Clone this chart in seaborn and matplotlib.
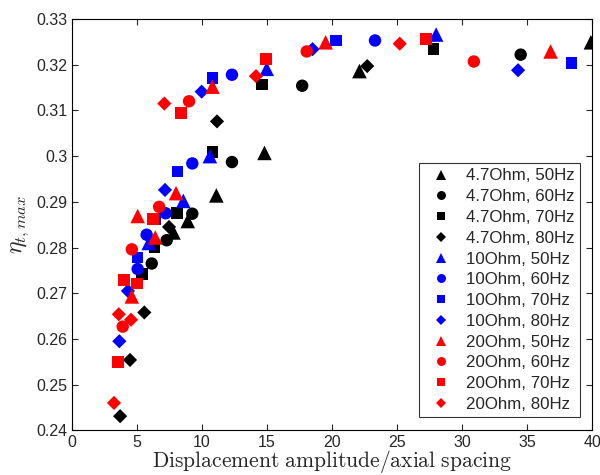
import numpy as np
import pandas as pd
import seaborn as sns
import matplotlib.pyplot as plt
from matplotlib.ticker import FixedLocator, FuncFormatter

# ===============================
# Data
# ===============================
x_47_50 = [7.8, 8.9, 11.1, 14.8, 22.1, 39.9]
y_47_50 = [0.2833, 0.2858, 0.2914, 0.3007, 0.3186, 0.3249]
x_47_60 = [6.13, 7.28, 9.25, 12.3, 17.7, 34.5]
y_47_60 = [0.2765, 0.2816, 0.2874, 0.2987, 0.3154, 0.3222]
x_47_70 = [5.4, 6.33, 8.05, 10.8, 14.6, 27.8]
y_47_70 = [0.2742, 0.2800, 0.2876, 0.3009, 0.3157, 0.3235]
x_47_80 = [3.7, 4.46, 5.56, 7.46, 11.15, 22.7]
y_47_80 = [0.2431, 0.2554, 0.2658, 0.2845, 0.3076, 0.3197]

x_10_50 = [5.9, 8.56, 10.6, 14.97, 28.0]
y_10_50 = [0.2810, 0.2902, 0.3000, 0.3191, 0.3266]
x_10_60 = [5.05, 5.74, 7.2, 9.25, 12.3, 23.3]
y_10_60 = [0.2753, 0.2828, 0.2875, 0.2984, 0.3178, 0.3253]
x_10_70 = [5.05, 6.4, 8.1, 10.8, 20.3, 38.4]
y_10_70 = [0.2778, 0.2862, 0.2966, 0.3171, 0.3253, 0.3204]
x_10_80 = [3.64, 4.3, 7.15, 9.97, 18.5, 34.3]
y_10_80 = [0.2595, 0.2705, 0.2926, 0.3141, 0.3234, 0.3188]

x_20_50 = [4.6, 5.05, 6.4, 8.0, 10.8, 19.5, 36.8]
y_20_50 = [0.2693, 0.2869, 0.2822, 0.2919, 0.3152, 0.3249, 0.3229]
x_20_60 = [3.9, 4.6, 6.7, 9.0, 18.05, 30.9]
y_20_60 = [0.2627, 0.2796, 0.2889, 0.3120, 0.3229, 0.3207]
x_20_70 = [3.56, 4.0, 5.0, 6.25, 8.36, 14.9, 27.2]
y_20_70 = [0.2550, 0.2729, 0.2721, 0.2862, 0.3095, 0.3213, 0.3256]
x_20_80 = [3.23, 3.6, 4.54, 7.1, 14.15, 25.2]
y_20_80 = [0.2460, 0.2654, 0.2642, 0.3115, 0.3175, 0.3246]

series = [
    ('4.7Ohm, 50Hz', x_47_50, y_47_50), ('4.7Ohm, 60Hz', x_47_60, y_47_60),
    ('4.7Ohm, 70Hz', x_47_70, y_47_70), ('4.7Ohm, 80Hz', x_47_80, y_47_80),
    ('10Ohm, 50Hz', x_10_50, y_10_50), ('10Ohm, 60Hz', x_10_60, y_10_60),
    ('10Ohm, 70Hz', x_10_70, y_10_70), ('10Ohm, 80Hz', x_10_80, y_10_80),
    ('20Ohm, 50Hz', x_20_50, y_20_50), ('20Ohm, 60Hz', x_20_60, y_20_60),
    ('20Ohm, 70Hz', x_20_70, y_20_70), ('20Ohm, 80Hz', x_20_80, y_20_80),
]
labels = [s[0] for s in series]

df = pd.concat([pd.DataFrame({'Case': lab, 'x': xs, 'y': ys}) for lab, xs, ys in series],
               ignore_index=True)

# colour by resistance, marker by frequency
res_colors = {'4.7Ohm': 'black', '10Ohm': 'blue', '20Ohm': 'red'}
freq_markers = {'50Hz': '^', '60Hz': 'o', '70Hz': 's', '80Hz': 'D'}
freq_sizes = {'50Hz': 110, '60Hz': 80, '70Hz': 70, '80Hz': 52}
palette = {lab: res_colors[lab.split(',')[0]] for lab in labels}
markers = {lab: freq_markers[lab.split(', ')[1]] for lab in labels}
sizes = {lab: freq_sizes[lab.split(', ')[1]] for lab in labels}

# ===============================
# Plot
# ===============================
sns.set_style('white')
plt.rcParams['font.family'] = ['Liberation Sans', 'DejaVu Sans']
plt.rcParams['mathtext.fontset'] = 'cm'

fig = plt.figure(figsize=(6, 4.75), dpi=100)
ax = fig.add_axes([0.12, 0.094, 0.867, 0.866])

sns.scatterplot(data=df, x='x', y='y', hue='Case', style='Case', size='Case',
                hue_order=labels, style_order=labels, size_order=labels,
                palette=palette, markers=markers, sizes=sizes, linewidth=0,
                ax=ax, legend='full')

ax.set_xlim(0, 40)
ax.set_ylim(0.24, 0.33)
ax.xaxis.set_major_locator(FixedLocator(np.arange(0, 41, 5)))
ax.yaxis.set_major_locator(FixedLocator(np.round(np.arange(0.24, 0.3301, 0.01), 2)))
ax.yaxis.set_major_formatter(FuncFormatter(lambda v, p: f'{v:g}'))
ax.tick_params(direction='in', length=4, width=0.8, labelsize=11.5, pad=3,
               top=True, right=True, bottom=True, left=True)
for sp in ax.spines.values():
    sp.set_linewidth(0.8)
    sp.set_color('black')

ax.set_xlabel(r'$\mathrm{Displacement\ amplitude/axial\ spacing}$', fontsize=15.5, labelpad=-1)
ax.set_ylabel(r'$\eta_{t,max}$', fontsize=17, labelpad=4)

ax.legend(loc='lower right', bbox_to_anchor=(0.992, 0.012), frameon=True, fancybox=False,
          edgecolor='black', fontsize=12.2, labelspacing=0.34, handletextpad=0.45,
          borderpad=0.3, markerscale=0.72)
ax.get_legend().get_frame().set_linewidth(0.8)

fig.savefig('out.png', dpi=100)
